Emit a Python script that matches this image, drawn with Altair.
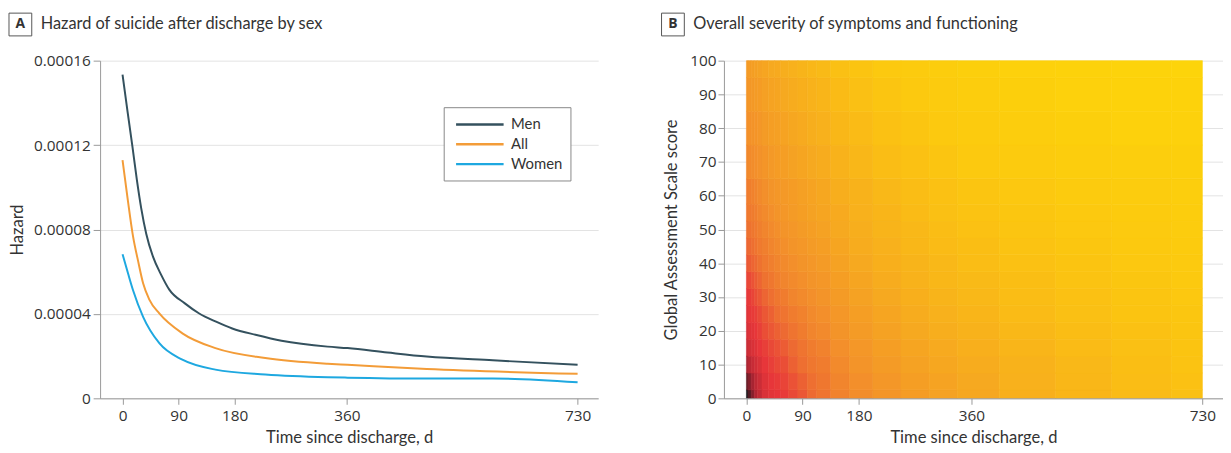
import altair as alt
import pandas as pd

# ---------------- Panel A: hazard curves ----------------
series_names = ["Men", "All", "Women"]
series_colors = ["#34515e", "#f39c38", "#1ea8e0"]

men_days = [0, 8, 16, 23, 30, 38, 49, 62, 75, 100, 123, 150, 176, 215, 255, 329, 361, 425,
            488, 594, 730]
men_hazard = [1.534e-4, 1.36e-4, 1.19e-4, 1.035e-4, 9.0e-5, 7.8e-5, 6.7e-5, 5.85e-5,
              5.15e-5, 4.5e-5, 4.02e-5, 3.63e-5, 3.31e-5, 3.0e-5, 2.73e-5, 2.45e-5,
              2.38e-5, 2.17e-5, 1.98e-5, 1.80e-5, 1.59e-5]

all_days = [0, 8, 17, 25, 33, 43, 59, 96, 149, 229, 329, 361, 488, 730]
all_hazard = [1.129e-4, 9.5e-5, 7.65e-5, 6.5e-5, 5.45e-5, 4.68e-5, 4.02e-5, 3.08e-5,
              2.38e-5, 1.91e-5, 1.64e-5, 1.59e-5, 1.39e-5, 1.16e-5]

women_days = [0, 9, 17, 33, 59, 96, 149, 229, 329, 361, 488, 594, 730]
women_hazard = [6.83e-5, 5.9e-5, 5.11e-5, 3.86e-5, 2.61e-5, 1.83e-5, 1.36e-5, 1.13e-5,
                1.0e-5, 9.8e-6, 9.4e-6, 9.4e-6, 7.6e-6]

x_ticks = [0, 90, 180, 360, 730]
hazard_ticks = [0, 0.00004, 0.00008, 0.00012, 0.00016]
score_ticks = [0, 10, 20, 30, 40, 50, 60, 70, 80, 90, 100]

# ---------------- Panel B: heat map levels (0 = yellow, 1 = black) ----------------
hm_days = [0, 5, 10, 15, 20, 30, 40, 50, 60, 75, 90, 105, 120, 150, 180, 225, 270, 315,
           360, 450, 540, 630, 730]
hm_scores = [0, 5, 10, 15, 20, 25, 30, 35, 40, 45, 50, 55, 60, 70, 80, 90, 100]
hm_g0 = [1.00, 0.93, 0.87, 0.82, 0.78, 0.73, 0.71, 0.70, 0.69, 0.66, 0.63, 0.59, 0.56, 0.51, 0.47, 0.43, 0.39, 0.36, 0.33, 0.28, 0.24, 0.20, 0.17]
hm_g5 = [0.91, 0.87, 0.83, 0.79, 0.76, 0.72, 0.70, 0.69, 0.67, 0.64, 0.61, 0.58, 0.55, 0.50, 0.46, 0.42, 0.38, 0.35, 0.32, 0.27, 0.23, 0.19, 0.16]
hm_g10 = [0.83, 0.80, 0.77, 0.75, 0.73, 0.70, 0.68, 0.66, 0.65, 0.61, 0.58, 0.55, 0.53, 0.48, 0.44, 0.40, 0.36, 0.33, 0.30, 0.26, 0.22, 0.18, 0.15]
hm_g15 = [0.77, 0.75, 0.73, 0.72, 0.70, 0.68, 0.66, 0.64, 0.62, 0.59, 0.56, 0.53, 0.51, 0.46, 0.42, 0.38, 0.34, 0.31, 0.28, 0.24, 0.20, 0.17, 0.14]
hm_g20 = [0.74, 0.72, 0.71, 0.70, 0.68, 0.65, 0.63, 0.61, 0.59, 0.56, 0.53, 0.50, 0.48, 0.44, 0.40, 0.36, 0.32, 0.29, 0.26, 0.22, 0.19, 0.16, 0.13]
hm_g25 = [0.72, 0.70, 0.69, 0.68, 0.66, 0.63, 0.61, 0.58, 0.56, 0.53, 0.51, 0.48, 0.46, 0.42, 0.38, 0.34, 0.30, 0.27, 0.24, 0.20, 0.17, 0.14, 0.12]
hm_g30 = [0.70, 0.69, 0.67, 0.65, 0.63, 0.60, 0.58, 0.55, 0.53, 0.50, 0.48, 0.46, 0.44, 0.40, 0.36, 0.32, 0.28, 0.25, 0.22, 0.19, 0.16, 0.13, 0.11]
hm_g35 = [0.67, 0.66, 0.64, 0.62, 0.60, 0.57, 0.55, 0.52, 0.50, 0.48, 0.46, 0.44, 0.42, 0.38, 0.34, 0.30, 0.26, 0.23, 0.21, 0.18, 0.15, 0.12, 0.10]
hm_g40 = [0.63, 0.62, 0.60, 0.59, 0.57, 0.54, 0.52, 0.50, 0.48, 0.46, 0.44, 0.42, 0.40, 0.36, 0.32, 0.28, 0.25, 0.22, 0.19, 0.16, 0.14, 0.11, 0.09]
hm_g45 = [0.60, 0.59, 0.58, 0.56, 0.54, 0.52, 0.50, 0.48, 0.46, 0.44, 0.42, 0.40, 0.38, 0.34, 0.30, 0.27, 0.23, 0.20, 0.18, 0.15, 0.12, 0.10, 0.08]
hm_g50 = [0.58, 0.57, 0.55, 0.54, 0.52, 0.50, 0.48, 0.46, 0.44, 0.42, 0.40, 0.38, 0.36, 0.32, 0.29, 0.25, 0.22, 0.19, 0.16, 0.13, 0.11, 0.09, 0.07]
hm_g55 = [0.55, 0.54, 0.53, 0.52, 0.50, 0.48, 0.46, 0.44, 0.42, 0.40, 0.38, 0.36, 0.34, 0.31, 0.27, 0.24, 0.20, 0.17, 0.15, 0.12, 0.10, 0.08, 0.06]
hm_g60 = [0.53, 0.52, 0.51, 0.50, 0.48, 0.46, 0.44, 0.42, 0.41, 0.39, 0.37, 0.35, 0.33, 0.29, 0.26, 0.22, 0.19, 0.16, 0.13, 0.11, 0.08, 0.07, 0.05]
hm_g70 = [0.49, 0.48, 0.47, 0.46, 0.45, 0.43, 0.41, 0.39, 0.38, 0.36, 0.34, 0.32, 0.30, 0.26, 0.23, 0.19, 0.16, 0.13, 0.10, 0.08, 0.06, 0.05, 0.04]
hm_g80 = [0.46, 0.45, 0.44, 0.43, 0.42, 0.40, 0.38, 0.37, 0.35, 0.33, 0.31, 0.29, 0.27, 0.23, 0.20, 0.16, 0.13, 0.10, 0.08, 0.06, 0.04, 0.03, 0.03]
hm_g90 = [0.43, 0.42, 0.41, 0.40, 0.39, 0.37, 0.35, 0.34, 0.32, 0.30, 0.28, 0.26, 0.24, 0.20, 0.17, 0.13, 0.10, 0.08, 0.06, 0.04, 0.03, 0.02, 0.02]
hm_g100 = [0.40, 0.39, 0.38, 0.37, 0.36, 0.34, 0.32, 0.31, 0.29, 0.27, 0.25, 0.23, 0.21, 0.17, 0.14, 0.10, 0.08, 0.06, 0.04, 0.03, 0.02, 0.01, 0.00]
hm_rows = [hm_g0, hm_g5, hm_g10, hm_g15, hm_g20, hm_g25, hm_g30, hm_g35, hm_g40, hm_g45,
           hm_g50, hm_g55, hm_g60, hm_g70, hm_g80, hm_g90, hm_g100]

level_stops = [0.0, 0.15, 0.30, 0.45, 0.58, 0.70, 0.82, 0.92, 1.0]
level_colors = ["#fdd40a", "#fbc312", "#f7ac1e", "#f3922a", "#ee6f31", "#e7363a",
                "#b02533", "#5a1b25", "#1b1a1f"]

titles_a = ["A", "Hazard of suicide after discharge by sex"]
titles_b = ["B", "Overall severity of symptoms and functioning"]

TXTFONT = "Lato"
NUM = "Open Sans"
TXT = "#333333"

# ---------------- build tables ----------------
rows = []
for name, days, vals in [("Men", men_days, men_hazard), ("All", all_days, all_hazard),
                         ("Women", women_days, women_hazard)]:
    for d, v in zip(days, vals):
        rows.append({"series": name, "day": d, "hazard": v})
lines_df = pd.DataFrame(rows)


def edges(nodes, lo, hi):
    out = []
    for i, n in enumerate(nodes):
        a = lo if i == 0 else (nodes[i - 1] + n) / 2
        b = hi if i == len(nodes) - 1 else (n + nodes[i + 1]) / 2
        out.append((a, b))
    return out


t_edges = edges(hm_days, 0, 730)
s_edges = edges(hm_scores, 0, 100)
cells = []
for j, (s0, s1) in enumerate(s_edges):
    for i, (t0, t1) in enumerate(t_edges):
        cells.append({"t0": t0, "t1": t1, "s0": s0, "s1": s1, "level": hm_rows[j][i]})
cells_df = pd.DataFrame(cells)

x_domain = [-36, 763]
W, H = 503, 341


def x_axis():
    return alt.Axis(values=x_ticks, title="Time since discharge, d", grid=False,
                    labelPadding=4, titlePadding=6, tickSize=6, zindex=1)


def title_layers(labels, box_x, text_x):
    df = pd.DataFrame({"label": [labels[0]], "title": [labels[1]]})
    box = alt.Chart(df).mark_rect(fill="white", stroke="#555555", strokeWidth=1).encode(
        x=alt.value(box_x), x2=alt.value(box_x + 23), y=alt.value(-48), y2=alt.value(-25))
    letter = alt.Chart(df).mark_text(font="Open Sans", fontSize=14, fontWeight="bold",
                                     align="center", baseline="middle", color=TXT).encode(
        x=alt.value(box_x + 11.5), y=alt.value(-36.5), text="label:N")
    txt = alt.Chart(df).mark_text(font=TXTFONT, fontSize=16.5, align="left",
                                  baseline="middle", color=TXT).encode(
        x=alt.value(text_x), y=alt.value(-36.5), text="title:N")
    return [box, letter, txt]


lines = alt.Chart(lines_df).mark_line(strokeWidth=2, interpolate="monotone").encode(
    x=alt.X("day:Q", scale=alt.Scale(domain=x_domain, nice=False, zero=False), axis=x_axis()),
    y=alt.Y("hazard:Q", scale=alt.Scale(domain=[0, 0.00016], nice=False),
            axis=alt.Axis(values=hazard_ticks, title="Hazard", grid=True, tickSize=7,
                          labelPadding=3, titlePadding=7,
                          labelExpr="datum.value == 0 ? '0' : format(datum.value, '.5f')")),
    color=alt.Color("series:N", scale=alt.Scale(domain=series_names, range=series_colors),
                    legend=alt.Legend(title=None, orient="none", legendX=347, legendY=47,
                                      symbolType="M-3,0L3,0", symbolSize=256,
                                      symbolOffset=19, symbolStrokeWidth=2.5,
                                      labelFont=TXTFONT, labelFontSize=15, labelColor=TXT,
                                      strokeColor="#888888", fillColor="white", padding=8,
                                      rowPadding=2, labelOffset=22, cornerRadius=0)),
    detail="series:N",
)

panel_a = alt.layer(lines, *title_layers(titles_a, -92, -60)).properties(width=W, height=H)

lvl_scale = alt.Scale(domain=level_stops, range=level_colors, interpolate="rgb")
heat = alt.Chart(cells_df).mark_rect(strokeWidth=0.6).encode(
    x=alt.X("t0:Q", scale=alt.Scale(domain=x_domain, nice=False, zero=False), axis=x_axis()),
    x2="t1:Q",
    y=alt.Y("s0:Q", scale=alt.Scale(domain=[0, 100], nice=False),
            axis=alt.Axis(values=score_ticks, title="Global Assessment Scale score", grid=True,
                          tickSize=6, labelPadding=2, titlePadding=9)),
    y2="s1:Q",
    color=alt.Color("level:Q", scale=lvl_scale, legend=None),
    stroke=alt.Stroke("level:Q", scale=lvl_scale, legend=None),
)

panel_b = alt.layer(heat, *title_layers(titles_b, -63, -31)).properties(width=W + 1, height=H)

chart = alt.hconcat(panel_a, panel_b, spacing=63).properties(
    padding={"left": 0, "top": 2, "right": 0, "bottom": 0}
).configure_view(stroke=None).configure_axis(
    labelFont=NUM, labelFontSize=15.5, labelColor=TXT,
    titleFont=TXTFONT, titleFontSize=16.7, titleFontWeight="normal", titleColor=TXT,
    domainColor="#999999", tickColor="#999999", gridColor="#e3e3e3",
)

chart.save("out.html", embed_options={"renderer": "svg", "actions": False})
